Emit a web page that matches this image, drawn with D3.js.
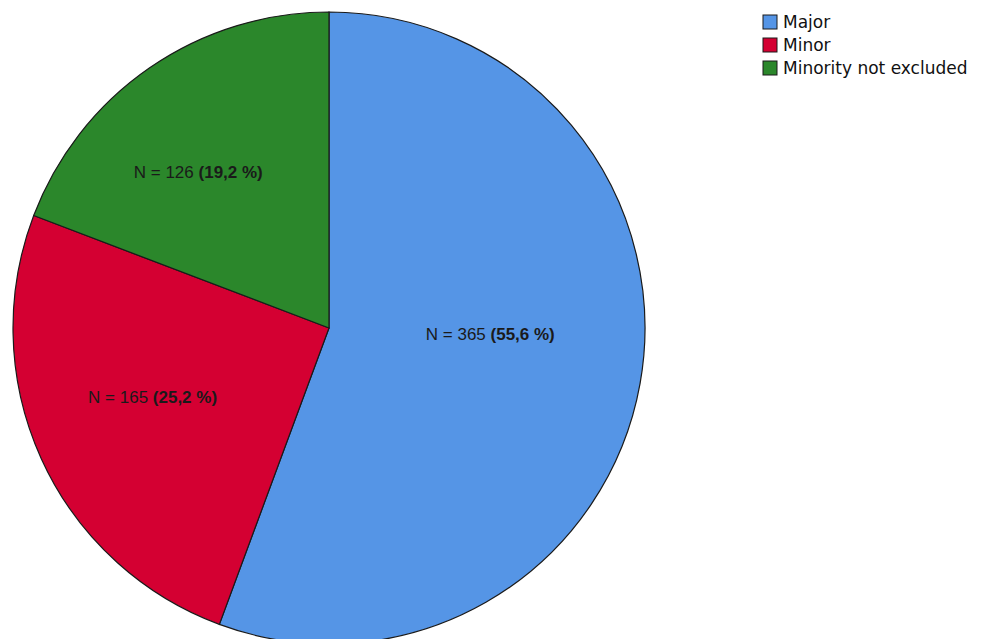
<!DOCTYPE html>
<html>
<head>
<meta charset="utf-8">
<script src="https://cdn.jsdelivr.net/npm/d3@7"></script>
<style>
body { margin: 0; background: #fff; }
</style>
</head>
<body>
<div id="main"></div>
<script>
var categories = ["Major", "Minor", "Minority not excluded"];
var counts = [365, 165, 126];
var percents = ["55,6", "25,2", "19,2"];
var colors = ["#5595e6", "#d40032", "#2b872b"];

var WIDTH = 986, HEIGHT = 639;
var cx = 329, cy = 328, R = 316;

var svg = d3.select("#main").append("svg")
	.attr("width", WIDTH)
	.attr("height", HEIGHT);

var pie = d3.pie().sort(null).value(function(d) { return d; });
var arcs = pie(counts);

var arc = d3.arc().innerRadius(0).outerRadius(R);

var g = svg.append("g")
	.attr("transform", "translate(" + cx + "," + cy + ")");

g.selectAll("path.slice")
	.data(arcs)
	.enter().append("path")
		.attr("class", "slice")
		.attr("d", arc)
		.attr("fill", function(d, i) { return colors[i]; })
		.attr("stroke", "#1a1a1a")
		.attr("stroke-width", 1.2);

// labels - centroid plus a nudge to sit where SPSS puts them
var labelArc = d3.arc().innerRadius(0).outerRadius(348);
var nudge = [[-10, -25], [-18, -3], [-32, -13]];
var lbl = g.selectAll("text.lbl")
	.data(arcs)
	.enter().append("text")
		.attr("class", "lbl")
		.attr("transform", function(d, i) {
			var c = labelArc.centroid(d);
			return "translate(" + (c[0] + nudge[i][0]) + "," + (c[1] + nudge[i][1] + 6) + ")";
		})
		.attr("text-anchor", "middle")
		.style("font-family", "'Liberation Sans Narrow', 'Arial Narrow', sans-serif")
		.style("font-size", "17px")
		.attr("fill", "#1a1a1a");
lbl.append("tspan").text(function(d, i) { return "N = " + counts[i] + " "; });
lbl.append("tspan").attr("font-weight", "bold").text(function(d, i) { return "(" + percents[i] + " %)"; });

// legend
var legend = svg.append("g").attr("transform", "translate(763,15)");
var row = legend.selectAll("g.row")
	.data(categories)
	.enter().append("g")
		.attr("class", "row")
		.attr("transform", function(d, i) { return "translate(0," + (i * 23) + ")"; });
row.append("rect")
	.attr("width", 14)
	.attr("height", 14)
	.attr("fill", function(d, i) { return colors[i]; })
	.attr("stroke", "#1a1a1a")
	.attr("stroke-width", 1);
row.append("text")
	.attr("x", 20)
	.attr("y", 13)
	.style("font-family", "'DejaVu Sans', sans-serif")
	.style("font-size", "17px")
	.attr("fill", "#111")
	.text(function(d) { return d; });
</script>
</body>
</html>
